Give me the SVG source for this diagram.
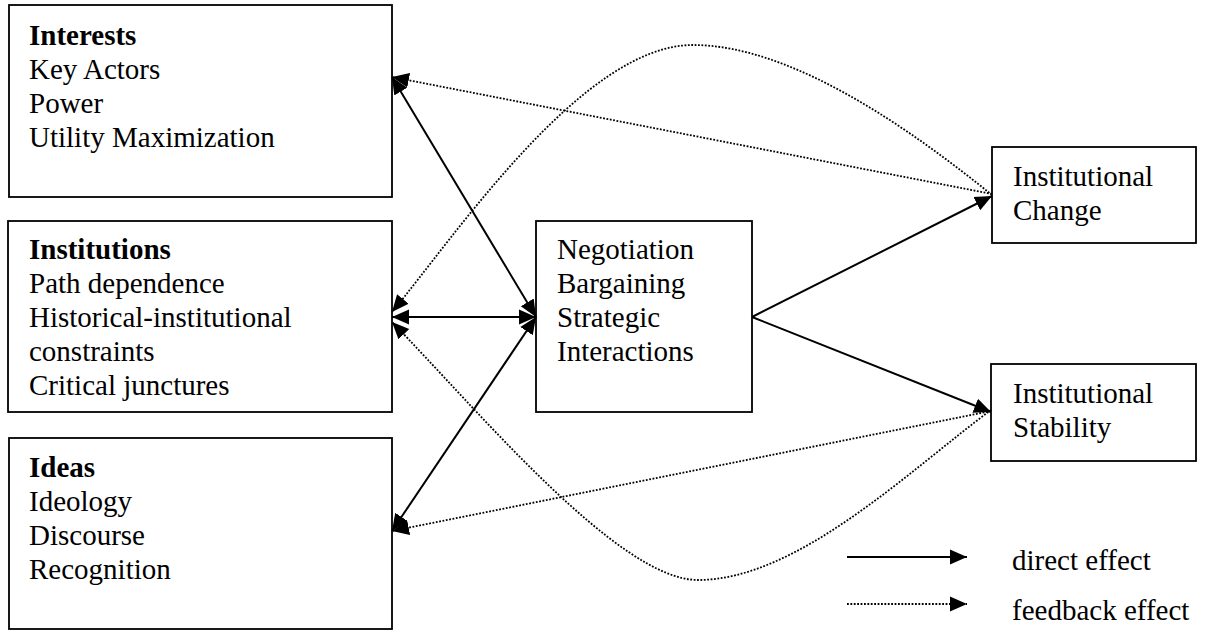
<svg xmlns="http://www.w3.org/2000/svg" width="1207" height="631" viewBox="0 0 1207 631">
<defs>
<style>
.box{fill:#fff;stroke:#000;stroke-width:1.8}
text{font-family:"Liberation Serif","Times New Roman",serif;font-size:29px;fill:#000}
.b{font-weight:bold}
.solid{fill:none;stroke:#000;stroke-width:2}
.dot{fill:none;stroke:#000;stroke-width:1.8;stroke-dasharray:1.8 1.6}
</style>
<marker id="ah" markerUnits="userSpaceOnUse" markerWidth="18" markerHeight="16" refX="17" refY="8" orient="auto-start-reverse" viewBox="0 0 18 16">
<path d="M0,0.5 L17,8 L0,15.5 Z" fill="#000"/>
</marker>
</defs>
<rect width="1207" height="631" fill="#fff"/>
<g id="interests">
<rect class="box" x="9" y="5" width="383" height="192"/>
<text x="29" y="45" class="b">Interests</text>
<text x="29" y="79">Key Actors</text>
<text x="29" y="113">Power</text>
<text x="29" y="147">Utility Maximization</text>
</g>
<g id="institutions">
<rect class="box" x="8" y="221" width="384" height="191"/>
<text x="29" y="259" class="b">Institutions</text>
<text x="29" y="293">Path dependence</text>
<text x="29" y="327">Historical-institutional</text>
<text x="29" y="361">constraints</text>
<text x="29" y="395">Critical junctures</text>
</g>
<g id="ideas">
<rect class="box" x="9" y="438" width="383" height="191"/>
<text x="29" y="477" class="b">Ideas</text>
<text x="29" y="511">Ideology</text>
<text x="29" y="545">Discourse</text>
<text x="29" y="579">Recognition</text>
</g>
<g id="negotiation">
<rect class="box" x="536" y="221" width="216" height="191"/>
<text x="557" y="259">Negotiation</text>
<text x="557" y="293">Bargaining</text>
<text x="557" y="327">Strategic</text>
<text x="557" y="361">Interactions</text>
</g>
<g id="change">
<rect class="box" x="992" y="147" width="204" height="96"/>
<text x="1013" y="186">Institutional</text>
<text x="1013" y="220">Change</text>
</g>
<g id="stability">
<rect class="box" x="991" y="364" width="205" height="97"/>
<text x="1013" y="403">Institutional</text>
<text x="1013" y="437">Stability</text>
</g>
<g id="connectors">
<line class="solid" x1="392" y1="77" x2="536" y2="317" marker-start="url(#ah)" marker-end="url(#ah)"/>
<line class="solid" x1="392" y1="317" x2="536" y2="317" marker-start="url(#ah)" marker-end="url(#ah)"/>
<line class="solid" x1="392" y1="531" x2="536" y2="317" marker-start="url(#ah)" marker-end="url(#ah)"/>
<line class="solid" x1="752" y1="317" x2="992" y2="196" marker-end="url(#ah)"/>
<line class="solid" x1="752" y1="317" x2="991" y2="412" marker-end="url(#ah)"/>
<line class="dot" x1="992" y1="194" x2="392" y2="77" marker-end="url(#ah)"/>
<line class="dot" x1="991" y1="411" x2="392" y2="531" marker-end="url(#ah)"/>
<path class="dot" d="M992,195 C914,132 793,45 693,45 C583,45 456,235 392,312" marker-end="url(#ah)"/>
<path class="dot" d="M991,410 C911,469 798,580 698,580 C618,580 476,408 392,322" marker-end="url(#ah)"/>
</g>
<g id="legend">
<line class="solid" x1="847" y1="557" x2="967" y2="557" marker-end="url(#ah)"/>
<line class="dot" x1="847" y1="604" x2="967" y2="604" stroke-width="1.4" stroke-dasharray="1.4 1.4" marker-end="url(#ah)"/>
<text x="1012" y="570">direct effect</text>
<text x="1012" y="620">feedback effect</text>
</g>
</svg>
